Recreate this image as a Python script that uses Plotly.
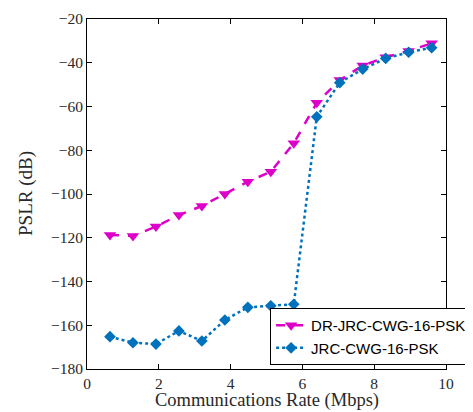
import plotly.graph_objects as go

rate = [0.64, 1.28, 1.92, 2.56, 3.20, 3.84, 4.48, 5.12, 5.76, 6.40, 7.04, 7.68, 8.32, 8.96, 9.60]
dr_jrc = [-118.7, -119.2, -114.9, -109.6, -105.5, -100.0, -94.4, -89.8, -76.8, -58.3, -47.9, -41.3, -37.5, -34.6, -31.1]
jrc = [-165.2, -168.0, -168.6, -162.6, -167.2, -157.6, -151.8, -151.1, -150.4, -64.7, -49.1, -42.9, -38.0, -35.2, -33.1]
names = ["DR-JRC-CWG-16-PSK", "JRC-CWG-16-PSK"]
x_ticks = [0, 2, 4, 6, 8, 10]
y_ticks = [-180, -160, -140, -120, -100, -80, -60, -40, -20]
x_title = "Communications Rate (Mbps)"
y_title = "PSLR (dB)"

magenta = "rgb(222,0,200)"
blue = "rgb(0,114,189)"

fig = go.Figure()
fig.add_trace(go.Scatter(x=rate, y=dr_jrc, name=names[0], mode="lines+markers",
                         line=dict(color=magenta, width=2.5, dash="dash"),
                         marker=dict(symbol="triangle-down", size=11, color=magenta)))
fig.add_trace(go.Scatter(x=rate, y=jrc, name=names[1], mode="lines+markers",
                         line=dict(color=blue, width=2.5, dash="dot"),
                         marker=dict(symbol="diamond", size=9, color=blue)))

serif = "Liberation Serif"
txt = "rgb(40,40,40)"
axis_common = dict(showgrid=False, zeroline=False, showline=True, linecolor="black", linewidth=1,
                   mirror="ticks", ticks="inside", ticklen=5, tickcolor="black", automargin=False,
                   tickfont=dict(family=serif, size=15.5, color=txt))
fig.update_xaxes(range=[0, 10], tickvals=x_ticks, **axis_common)
fig.update_yaxes(range=[-180, -20], tickvals=y_ticks, **axis_common)

fig.add_annotation(text=x_title, xref="paper", yref="paper", x=0.5, y=0,
                   xanchor="center", yanchor="top", yshift=-19, showarrow=False,
                   font=dict(family=serif, size=18.5, color=txt))
fig.add_annotation(text=y_title, xref="paper", yref="paper", x=0, y=0.5, textangle=-90,
                   xanchor="center", yanchor="middle", xshift=-61, showarrow=False,
                   font=dict(family=serif, size=19, color=txt))

fig.update_layout(
    width=465, height=404,
    margin=dict(l=79, r=27, t=11, b=43, autoexpand=False),
    plot_bgcolor="white", paper_bgcolor="white",
    showlegend=True,
    legend=dict(x=0.51, y=0.174, xanchor="left", yanchor="top",
                bgcolor="white", bordercolor="black", borderwidth=1,
                font=dict(family="Liberation Sans", size=15, color="black"),
                tracegroupgap=0, itemwidth=30),
)

fig.write_html("out.html")
